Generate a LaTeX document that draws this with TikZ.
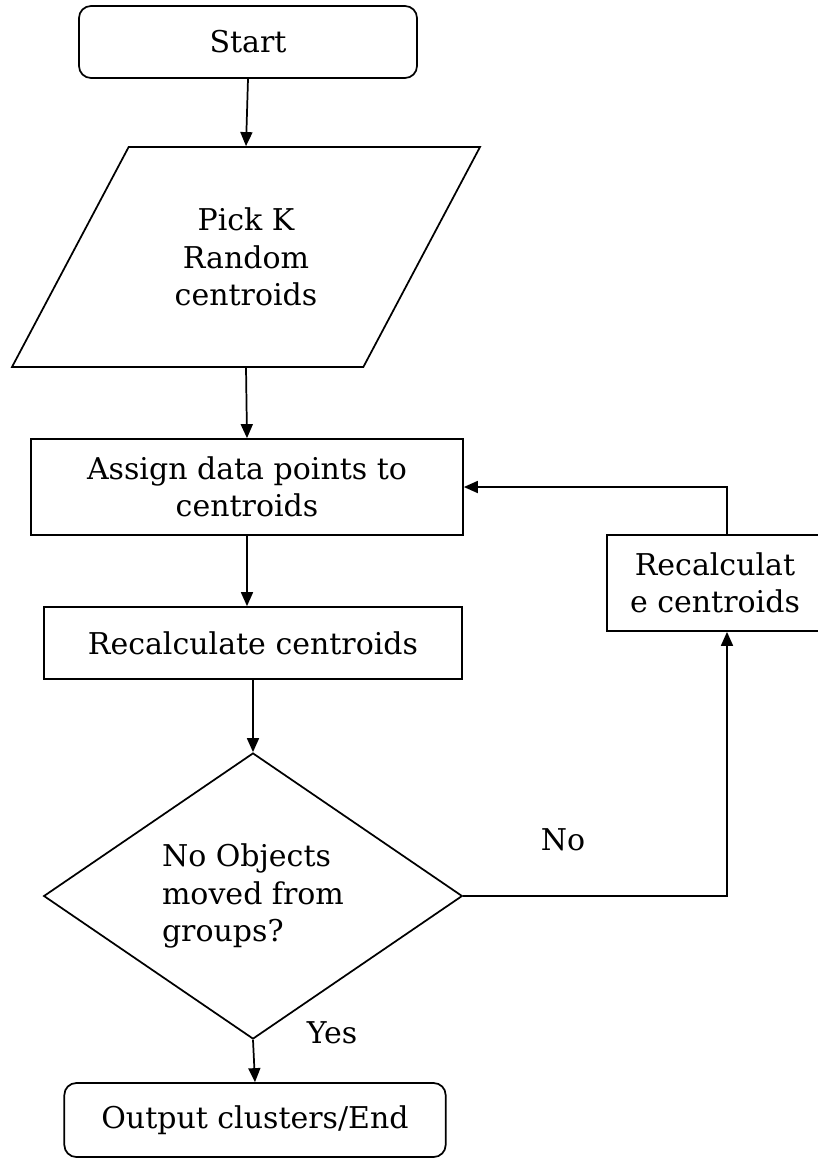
\documentclass[tikz,border=0pt]{standalone}
\usepackage{fontspec}
\setmainfont{DejaVu Serif}
\usetikzlibrary{shapes.geometric,arrows.meta}

\begin{document}
\begin{tikzpicture}[x=0.75pt, y=-0.75pt,
  font=\fontsize{22.5}{28}\selectfont,
  every path/.style={line width=1.3pt},
  line/.style={-{Triangle[length=10.5pt,width=9pt]}},
  terminal/.style={draw, rounded corners=9pt, inner sep=0pt, align=center},
  process/.style={draw, inner sep=0pt, align=center},
  inout/.style={draw, trapezium, trapezium left angle=40, trapezium right angle=140,
    trapezium stretches body, inner sep=0pt, align=center},
  decision/.style={draw, diamond, inner sep=0pt, align=left}]

\useasboundingbox (0,0) rectangle (818,1158);

%%% --- Main column --- %%%
\node[terminal, minimum width=253.5pt, minimum height=54pt] (start) at (248,42) {Start};

\node[inout, minimum width=351pt, minimum height=165pt] (pick) at (246,257)
  {Pick K\\Random\\centroids};

\node[process, minimum width=324pt, minimum height=72pt] (assign) at (247,487)
  {Assign data points to\\centroids};

\node[process, minimum width=314pt, minimum height=54pt] (recalc) at (253,643)
  {Recalculate centroids};

\node[decision, minimum width=314pt, minimum height=181.5pt] (dec) at (253,896)
  {No Objects\\moved from\\groups?};

\node[terminal, minimum width=286pt, minimum height=55.5pt] (stop) at (255,1120)
  {Output clusters/End};


%%% --- Loop box --- %%%
\node[process, minimum width=162pt, minimum height=72pt] (redo) at (715,583)
  {Recalculat\\e centroids};


%%% --- Labels --- %%%
\node (lblno) at (563,840) {No};
\node (lblyes) at (332,1033) {Yes};


%%% --- Arrows --- %%%
\draw[line] (start.south) -- (pick.north);
\draw[line] (pick.south) -- (assign.north);
\draw[line] (assign.south) -- (assign.south |- recalc.north);
\draw[line] (recalc.south) -- (dec.north);
\draw[line] (dec.south) -- (stop.north);

% loop back
\draw[line] (dec.east) -| ([xshift=9pt]redo.south);
\draw[line] ([xshift=9pt]redo.north) |- (assign.east);

\end{tikzpicture}
\end{document}
